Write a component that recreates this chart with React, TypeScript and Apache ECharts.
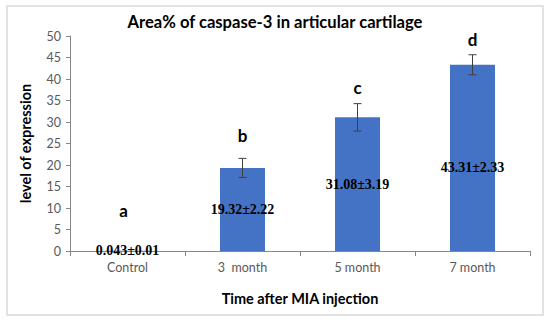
import React, { useEffect, useRef } from "react";
import * as echarts from "echarts";

const categories = ["Control", "3  month", "5 month", "7 month"];
const means = [0.043, 19.32, 31.08, 43.31];
const sds = [0.01, 2.22, 3.19, 2.33];
const valueLabels = ["0.043±0.01", "19.32±2.22", "31.08±3.19", "43.31±2.33"];
const letters = ["a", "b", "c", "d"];
const yTicks = { min: 0, max: 50, interval: 5 };

const letterOffsets = [40, 23, 16, 15];
const labelOffsets = [0, 0, 0, 10];

export default function App() {
  const ref = useRef<HTMLDivElement>(null);
  useEffect(() => {
    if (!ref.current) return;
    const chart = echarts.init(ref.current, null, { renderer: "svg" });
    const font = "Lato";
    chart.setOption({
      animation: false,
      backgroundColor: "#ffffff",
      title: {
        text: "Area% of caspase-3 in articular cartilage",
        left: 270,
        textAlign: "center",
        top: 8,
        textStyle: { fontFamily: font, fontWeight: "bold", fontSize: 16.6, color: "#000" },
      },
      graphic: [
        {
          type: "rect",
          shape: { x: 7, y: 6, width: 536, height: 309 },
          style: { fill: "none", stroke: "#d9d9d9", lineWidth: 1.5 },
          silent: true,
        },
      ],
      grid: { left: 70, right: 20, top: 36, bottom: 71 },
      xAxis: {
        type: "category",
        data: categories,
        name: "Time after MIA injection",
        nameLocation: "middle",
        nameGap: 40,
        nameTextStyle: { fontFamily: font, fontWeight: "bold", fontSize: 14.5, color: "#000" },
        axisLine: { lineStyle: { color: "#868686", width: 1 } },
        axisTick: { show: true, length: 5, interval: 0, alignWithLabel: false, lineStyle: { color: "#868686" } },
        axisLabel: { fontFamily: font, fontSize: 12.5, color: "#595959", margin: 10 },
      },
      yAxis: {
        type: "value",
        min: yTicks.min,
        max: yTicks.max,
        interval: yTicks.interval,
        name: "level of expression",
        nameLocation: "middle",
        nameGap: 37,
        nameTextStyle: { fontFamily: font, fontWeight: "bold", fontSize: 14.5, color: "#000" },
        axisLine: { show: true, lineStyle: { color: "#868686", width: 1 } },
        axisTick: { show: true, length: 4, lineStyle: { color: "#868686" } },
        axisLabel: { fontFamily: font, fontSize: 12.5, color: "#595959", margin: 9 },
        splitLine: { show: false },
      },
      series: [
        {
          type: "bar",
          barWidth: 45,
          data: means.map((v, i) => ({
            value: v,
            label: {
              show: true,
              position: "inside",
              offset: [0, labelOffsets[i]],
              formatter: valueLabels[i],
              fontFamily: "Liberation Serif",
              fontWeight: "bold",
              fontSize: 14,
              color: "#000",
            },
          })),
          itemStyle: { color: "#4472c4" },
          z: 2,
        },
        {
          type: "custom",
          z: 5,
          data: means.map((m, i) => [i, m, sds[i]]),
          renderItem: (params: any, api: any) => {
            const i = api.value(0);
            const m = api.value(1);
            const s = api.value(2);
            const top = api.coord([i, m + s]);
            const bot = api.coord([i, m - s]);
            const x = top[0];
            const cap = 4;
            const lineStyle = { stroke: "#404040", lineWidth: 1 };
            const children: any[] = [];
            if (i > 0) {
              children.push(
                { type: "line", shape: { x1: x, y1: top[1], x2: x, y2: bot[1] }, style: lineStyle },
                { type: "line", shape: { x1: x - cap, y1: top[1], x2: x + cap, y2: top[1] }, style: lineStyle },
                { type: "line", shape: { x1: x - cap, y1: bot[1], x2: x + cap, y2: bot[1] }, style: lineStyle }
              );
            }
            children.push({
              type: "text",
              style: {
                text: letters[i],
                x: x - (i === 0 ? 4 : 0),
                y: top[1] - letterOffsets[i],
                align: "center",
                verticalAlign: "middle",
                fontFamily: font,
                fontWeight: "bold",
                fontSize: 17,
                fill: "#000",
              },
            });
            return { type: "group", children };
          },
        },
      ],
    });
    return () => chart.dispose();
  }, []);
  return (
    <div
      ref={ref}
      style={{ position: "fixed", left: 0, top: 0, width: 550, height: 322 }}
    />
  );
}
